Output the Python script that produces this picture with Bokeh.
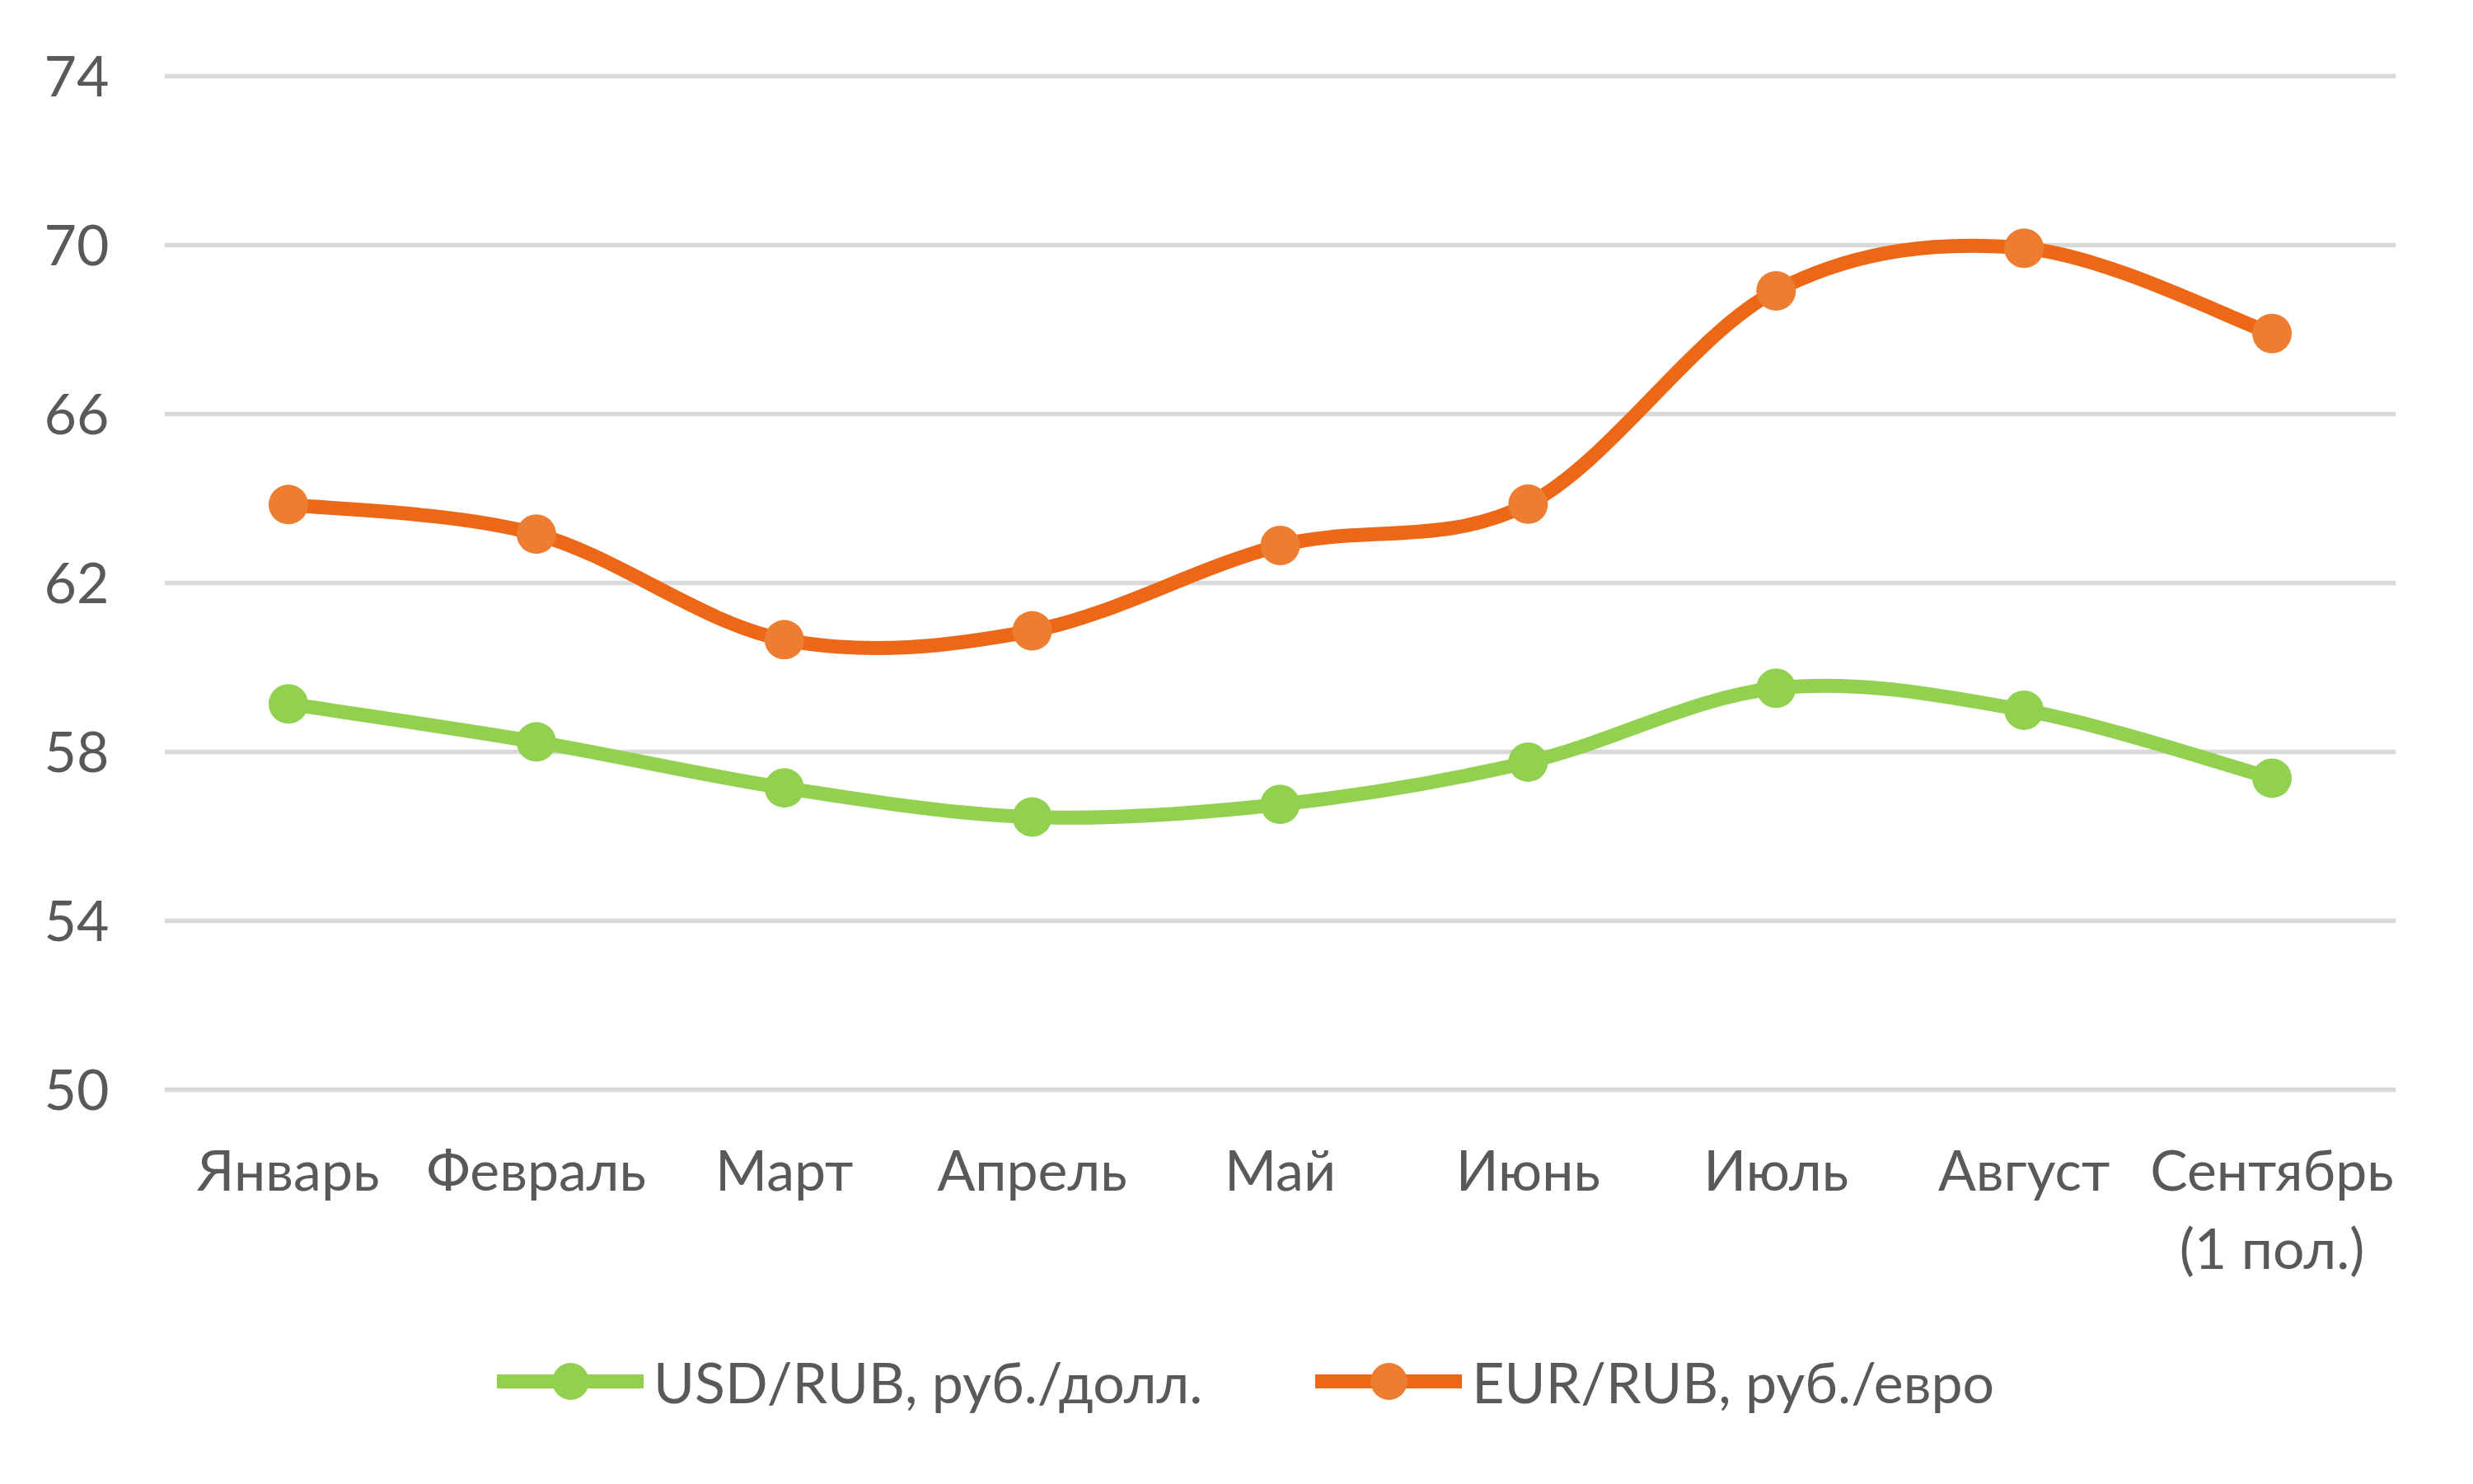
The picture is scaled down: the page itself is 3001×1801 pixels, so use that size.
from bokeh.plotting import figure
from bokeh.models import FixedTicker, Legend, LegendItem, Range1d
from bokeh.embed import file_html
from bokeh.resources import INLINE

categories = ["Январь", "Февраль", "Март", "Апрель", "Май", "Июнь", "Июль", "Август", "Сентябрь\n(1 пол.)"]
usd = [59.13, 58.23, 57.14, 56.45, 56.75, 57.75, 59.50, 58.98, 57.37]
eur = [63.85, 63.15, 60.65, 60.86, 62.88, 63.86, 68.91, 69.92, 67.90]
y_ticks = [50, 54, 58, 62, 66, 70, 74]
series_names = ["USD/RUB, руб./долл.", "EUR/RUB, руб./евро"]

FONT = "Lato"
FS = "68px"
TXT = "#595959"

W, H = 3001, 1801
TOP, LEFT, RIGHT = 66, 199, 94
Y_TOP = 74.5
PX_PER_UNIT = 51.25
Y_BOTTOM = Y_TOP - (H - TOP) / PX_PER_UNIT  # frame runs to the bottom of the page

p = figure(width=W, height=H, x_range=Range1d(0, len(categories)),
           y_range=Range1d(Y_BOTTOM, Y_TOP), output_backend="svg", toolbar_location=None,
           min_border_left=LEFT, min_border_right=RIGHT, min_border_top=TOP, min_border_bottom=0)
p.outline_line_color = None
p.background_fill_color = "white"
p.border_fill_color = "white"

xs = [i + 0.5 for i in range(len(categories))]


def smooth(x, y):
    n = len(x)
    seg = dict(x0=[], y0=[], x1=[], y1=[], cx0=[], cy0=[], cx1=[], cy1=[])
    for i in range(n - 1):
        xm, ym = (x[i - 1], y[i - 1]) if i > 0 else (x[i], y[i])
        xp, yp = (x[i + 2], y[i + 2]) if i + 2 < n else (x[i + 1], y[i + 1])
        seg["x0"].append(x[i]); seg["y0"].append(y[i])
        seg["x1"].append(x[i + 1]); seg["y1"].append(y[i + 1])
        seg["cx0"].append(x[i] + (x[i + 1] - xm) / 6); seg["cy0"].append(y[i] + (y[i + 1] - ym) / 6)
        seg["cx1"].append(x[i + 1] - (xp - x[i]) / 6); seg["cy1"].append(y[i + 1] - (yp - y[i]) / 6)
    return seg


styles = [("#92D050", "#92D050"), ("#EC6817", "#ED7D31")]
items = []
for vals, name, (lc, mc) in zip([usd, eur], series_names, styles):
    s = smooth(xs, vals)
    r_line = p.bezier(x0=s["x0"], y0=s["y0"], x1=s["x1"], y1=s["y1"],
                      cx0=s["cx0"], cy0=s["cy0"], cx1=s["cx1"], cy1=s["cy1"],
                      line_color=lc, line_width=17, line_cap="round")
    r_pts = p.scatter(x=xs, y=vals, size=48, fill_color=mc, line_color=mc, line_width=0)
    items.append(LegendItem(label=name, renderers=[r_line, r_pts]))

p.xgrid.visible = False
p.ygrid.ticker = FixedTicker(ticks=y_ticks)
p.ygrid.grid_line_color = "#D9D9D9"
p.ygrid.grid_line_width = 5.5

p.yaxis.ticker = FixedTicker(ticks=y_ticks)
p.xaxis.ticker = FixedTicker(ticks=xs)
p.xaxis.major_label_overrides = {x: c for x, c in zip(xs, categories)}
p.xaxis.fixed_location = y_ticks[0] - 0.5
for ax in (p.xaxis, p.yaxis):
    ax.axis_line_color = None
    ax.major_tick_line_color = None
    ax.minor_tick_line_color = None
    ax.major_label_text_font = FONT
    ax.major_label_text_font_size = FS
    ax.major_label_text_color = TXT
p.yaxis.major_label_standoff = 61
p.xaxis.major_label_standoff = 24
p.xaxis.major_label_text_line_height = 1.18

legend = Legend(items=items, location=(404, 69), orientation="horizontal",
                glyph_width=178, glyph_height=112, label_height=112, label_standoff=12,
                spacing=137, padding=0, margin=0,
                label_text_font=FONT, label_text_font_size=FS, label_text_color=TXT,
                border_line_color=None, background_fill_alpha=0)
p.add_layout(legend)

open("out.html", "w").write(file_html(p, INLINE))
